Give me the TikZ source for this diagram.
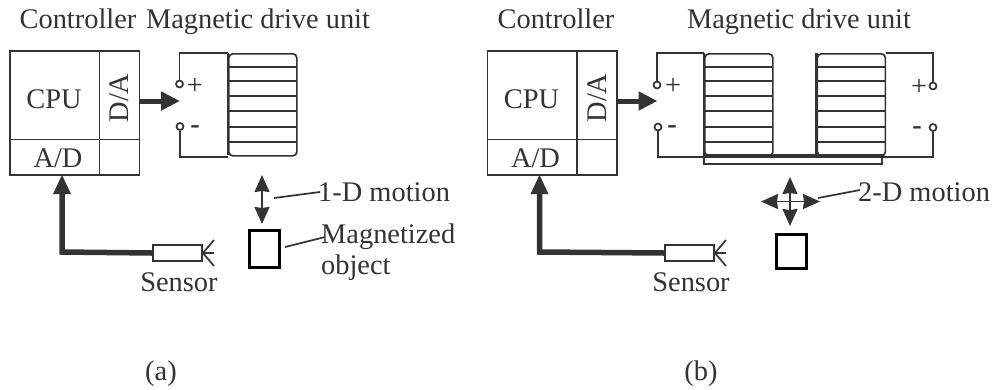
\documentclass[tikz,border=0pt]{standalone}
\usepackage{fontspec}
\setmainfont{Liberation Serif}
\usetikzlibrary{arrows.meta,calc}
\definecolor{ink}{gray}{0.2}
\tikzset{
  txt/.style={inner sep=0pt,text=ink,text height=18pt,text depth=6pt,font=\fontsize{28.4}{30}\selectfont},
  sign/.style={txt,font=\fontsize{28.4}{30}\bfseries\selectfont},
  cell/.style={draw=ink,line width=1.7pt,inner sep=0pt},
  term/.style={circle,draw=ink,line width=1.7pt,fill=white,minimum size=7pt,inner sep=0pt},
  wire/.style={draw=ink,line width=1.7pt},
  fatarrow/.style={draw=ink,line width=5pt,-{Stealth[length=19pt,width=18pt,inset=0pt]}},
  fatline/.style={draw=ink,line width=5.5pt},
  motion/.style={draw=ink,line width=1.8pt,{Stealth[length=17pt,width=15pt,inset=1pt]}-{Stealth[length=17pt,width=15pt,inset=1pt]}},
  objbox/.style={draw=black,line width=3pt,fill=white,inner sep=0pt},
  senbox/.style={draw=ink,line width=1.8pt,fill=white,inner sep=0pt,minimum width=49pt,minimum height=16pt},
  coilbox/.style={draw=ink,line width=1.7pt,rounded corners=4pt,inner sep=0pt,minimum width=68pt,minimum height=102pt,anchor=north west},
}
% #1 name, #2 left x
\newcommand{\mycoil}[2]{
  \node[coilbox] (#1) at (#2,53) {};
  \foreach \yy in {67,81,96,111,127,142}
    \draw[wire] (#2,\yy) -- (#2+68,\yy);
  \draw[draw=ink,line width=2.5pt,rounded corners=4pt] (#2,155) -- (#2,53);
}
% #1 prefix, #2 x offset, #3 sensor x offset
\newcommand{\ctrl}[3]{
  \node[cell,minimum width=89.5pt,minimum height=88.5pt] (#1cpu) at (54.7+#2,95.2) {};
  \node[txt] (#1cpulabel) at (54+#2,102) {CPU};
  \node[cell,minimum width=40pt,minimum height=88.5pt] (#1da) at (119.5+#2,95.2) {};
  \node[txt,rotate=90] (#1dalabel) at (122.5+#2,98) {D/A};
  \node[cell,minimum width=89.5pt,minimum height=35.5pt] (#1ad) at (54.7+#2,157.2) {};
  \node[txt] (#1adlabel) at (58+#2,161) {A/D};
  \node[cell,minimum width=40pt,minimum height=35.5pt] (#1blank) at (119.5+#2,157.2) {};
  \node[senbox] (#1sensor) at (177.5+#2+#3,253) {};
  \coordinate (#1r1) at (214+#2+#3,240);
  \coordinate (#1r2) at (214+#2+#3,253);
  \coordinate (#1r3) at (214+#2+#3,266);
  \draw[wire] (#1sensor.east) -- (#1r1);
  \draw[wire] (#1sensor.east) -- (#1r2);
  \draw[wire] (#1sensor.east) -- (#1r3);
  \node[txt] (#1sensorlabel) at (179+#2+#3,285) {Sensor};
  \coordinate (#1corner) at (62+#2,252);
  \coordinate (#1tip) at (62+#2,175);
  \draw[fatline,line join=miter] (#1sensor.west) -- (#1corner) -- ($(#1tip)+(0,14)$);
  \draw[draw=none,fill=ink] (#1tip) -- ($(#1tip)+(-9,19)$) -- ($(#1tip)+(9,19)$) -- cycle;
  \coordinate (#1dst) at (180+#2,101);
  \draw[fatarrow] (#1da.east |- #1dst) -- (#1dst);
}
\begin{document}
\begin{tikzpicture}[x=1pt,y=-1pt]
\useasboundingbox (0,0) rectangle (993,389);
% ---------- (a)
\node[txt] (ca) at (78,22) {Controller};
\node[txt] (ma) at (258,22) {Magnetic drive unit};
\ctrl{a}{0}{0}
\mycoil{acoil}{228}
\node[term] (ap) at (179.5,84) {};
\node[term] (am) at (180,126.5) {};
\node[txt] (apl) at (195,88) {+};
\node[sign] (aml) at (195,127) {-};
\draw[wire] (ap) -- (ap |- acoil.north) -- (acoil.north west);
\draw[wire] (am) -- (am |- acoil.south) -- (acoil.south west);
\coordinate (am1) at (262,175);
\coordinate (am2) at (262,224);
\draw[motion] (am1) -- (am2);
\node[txt,anchor=west] (alab) at (318,195) {1-D motion};
\coordinate (al1) at (274,198);
\draw[wire] (al1) -- ([yshift=3pt,xshift=2pt]alab.west);
\node[objbox,minimum width=30pt,minimum height=37pt] (aobj) at (264.5,248.5) {};
\node[txt,anchor=west] (amag) at (321,237) {Magnetized};
\node[txt,anchor=west] (aobjl) at (321,268) {object};
\coordinate (al2) at (285,247);
\draw[wire] (al2) -- ([xshift=4pt]amag.west);
\node[txt] (capa) at (161,374) {(a)};
% ---------- (b)
\node[txt] (cb) at (556,22) {Controller};
\node[txt] (mb) at (799,22) {Magnetic drive unit};
\ctrl{b}{477.5}{34.5}
\mycoil{bcl}{704}
\mycoil{bcr}{816.5}
\node[term] (bp) at (657,85) {};
\node[term] (bm) at (658,127) {};
\node[term] (brp) at (933,86) {};
\node[term] (brm) at (933,127.5) {};
\node[txt] (bpl) at (673,88) {+};
\node[sign] (bml) at (672,127) {-};
\node[txt] (brpl) at (919,89) {+};
\node[sign] (brml) at (917,128) {-};
\draw[wire] (bp) -- (bp |- bcl.north) -- (bcl.north west);
\draw[wire] (brp) -- (brp |- bcr.north) -- (bcr.north east);
\draw[wire] (bm) -- (bm |- bcl.south) -- (bcl.south west);
\draw[wire] (brm) -- (brm |- bcr.south) -- (bcl.south west);
\node[draw=ink,line width=1.5pt,inner sep=0pt,minimum width=178pt,minimum height=9pt] (bbase) at (793,159.5) {};
\coordinate (bv1) at (790,177);
\coordinate (bv2) at (790,226);
\coordinate (bh1) at (761,201.5);
\coordinate (bh2) at (820,201.5);
\draw[motion] (bv1) -- (bv2);
\draw[motion] (bh1) -- (bh2);
\node[txt,anchor=west] (blab) at (858,195) {2-D motion};
\coordinate (bl1) at (818,198);
\draw[wire] (bl1) -- ([yshift=5pt,xshift=2pt]blab.west);
\node[objbox,minimum width=30pt,minimum height=34pt] (bobj) at (791,251) {};
\node[txt] (capb) at (701,374) {(b)};
\end{tikzpicture}
\end{document}
